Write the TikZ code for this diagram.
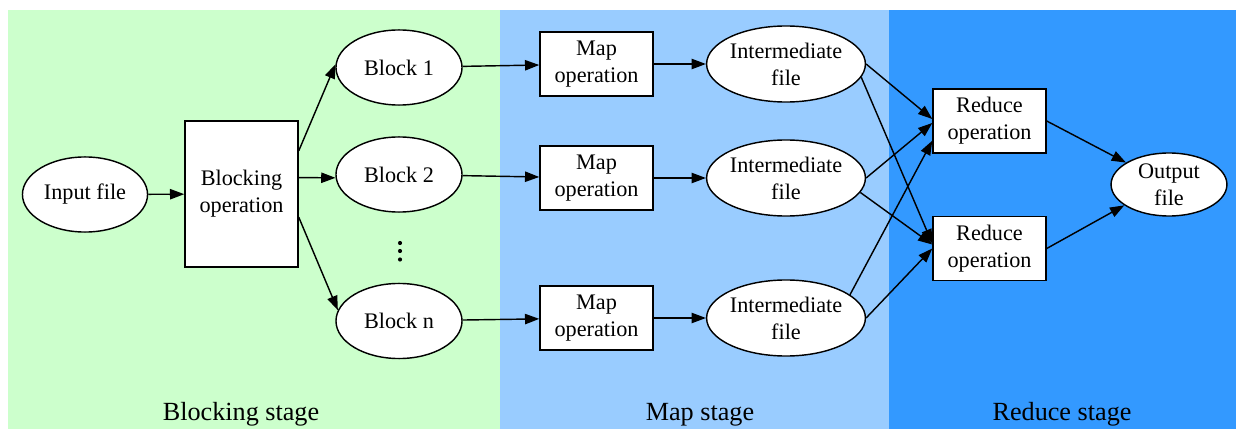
\documentclass[tikz,border=0pt]{standalone}
\usepackage{fontspec}
\setmainfont{Liberation Serif}
\usetikzlibrary{positioning, arrows.meta, shapes.geometric}
\definecolor{blockbg}{HTML}{CCFFCC}
\definecolor{mapbg}{HTML}{99CCFF}
\definecolor{reducebg}{HTML}{3399FF}

\begin{document}
\begin{tikzpicture}[x=0.63pt, y=-0.63pt, line width=0.9pt,
    >={Triangle[length=9pt, width=6.5pt]}]
    \tikzstyle{file}=[
        ellipse,
        draw = black,
        fill = white,
        inner sep = 0pt,
        align = center,
        font = \fontsize{14}{17}\selectfont
    ]
    \tikzstyle{opbox}=[
        rectangle,
        draw = black,
        fill = white,
        inner sep = 0pt,
        align = center,
        minimum width = 71.2pt,
        minimum height = 40.3pt,
        font = \fontsize{14}{17}\selectfont
    ]
    \tikzstyle{stage}=[anchor=base, font=\fontsize{16.5}{20}\selectfont]

    % stage backgrounds
    \useasboundingbox[fill=white] (0,0) rectangle (1236,429);
    \fill[blockbg] (8,10) rectangle (500,429);
    \fill[mapbg] (500,10) rectangle (889,429);
    \fill[reducebg] (889,10) rectangle (1236,429);

    \node (bstage) [stage] at (241,420) {Blocking stage};
    \node (mstage) [stage] at (700,420) {Map stage};
    \node (rstage) [stage] at (1062,420) {Reduce stage};

    % blocking stage
    \node (in) [file, minimum width=78.8pt, minimum height=47.3pt] at (85,194.5) {Input file};
    \node (blk) [opbox, minimum height=92pt] at (241.5,194) {Blocking\\operation};
    \begin{scope}[every node/.style={file, minimum width=79.4pt, minimum height=47.3pt}]
      \node (b1) at (399,67.5) {Block 1};
      \node (b2) at (399,174.5) {Block 2};
      \node (bn) at (399,321) {Block n};
    \end{scope}
    \foreach \y in {243,251,259.5}
      \fill (400,\y) circle[radius=1.3pt];

    % map stage
    \begin{scope}[every node/.style=opbox]
      \node (m1) at (596.5,64) {Map\\operation};
      \node (m2) at (596.5,178) {Map\\operation};
      \node (mn) at (596.5,318) {Map\\operation};
    \end{scope}
    \begin{scope}[every node/.style={file, minimum width=95.8pt, minimum height=47.9pt}]
      \node (i1) at (786,64) {Intermediate\\file};
      \node (i2) at (786,178) {Intermediate\\file};
      \node (in3) at (786,318) {Intermediate\\file};
    \end{scope}

    % reduce stage
    \node (r1) [opbox] at (989.5,121) {Reduce\\operation};
    \node (r2) [opbox] at (989.5,248.5) {Reduce\\operation};
    \node (out) [file, minimum width=73pt, minimum height=39.7pt] at (1169,184.5) {Output\\file};

    \path[->] (in) edge (blk)
              (blk.37) edge (b1.177)
              (blk.16) edge (b2.183)
              (blk.-22) edge (bn.170)
              (b1) edge (m1)
              (b2) edge (m2)
              (bn) edge (mn)
              (m1) edge (i1)
              (m2) edge (i2)
              (mn) edge (in3)
              (i1.east) edge (r1.178)
              (i1.-10) edge (r2.175)
              (i2.east) edge (r1.182)
              (i2.-11) edge (r2.176)
              (in3.20) edge (r1.199)
              (in3.east) edge (r2.west)
              (r1.east) edge (out.153)
              (r2.east) edge (out.205);
\end{tikzpicture}
\end{document}
